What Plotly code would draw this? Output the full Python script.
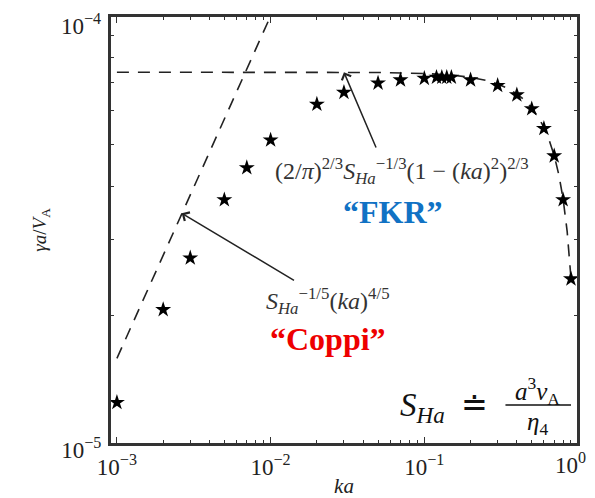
import numpy as np
import plotly.graph_objects as go

# ---- data ----
ka_sim = [0.001, 0.002, 0.003, 0.005, 0.007, 0.01, 0.02, 0.03, 0.05, 0.07,
          0.1, 0.12, 0.13, 0.14, 0.15, 0.2, 0.3, 0.4, 0.5, 0.6, 0.7, 0.8, 0.9]
gamma_sim = [1.25e-5, 2.06e-5, 2.72e-5, 3.72e-5, 4.42e-5, 5.13e-5, 6.22e-5, 6.63e-5,
             6.97e-5, 7.09e-5, 7.15e-5, 7.19e-5, 7.19e-5, 7.19e-5, 7.19e-5, 7.09e-5,
             6.88e-5, 6.54e-5, 6.07e-5, 5.46e-5, 4.71e-5, 3.72e-5, 2.43e-5]

ka_fkr = [0.001, 0.01, 0.05, 0.1, 0.15, 0.2, 0.25, 0.3, 0.35, 0.4, 0.45, 0.5,
          0.55, 0.6, 0.65, 0.7, 0.75, 0.8, 0.85, 0.9]
gamma_fkr = [7.39e-5, 7.39e-5, 7.38e-5, 7.34e-5, 7.28e-5, 7.19e-5, 7.08e-5, 6.94e-5,
             6.77e-5, 6.58e-5, 6.36e-5, 6.10e-5, 5.81e-5, 5.49e-5, 5.12e-5, 4.72e-5,
             4.26e-5, 3.74e-5, 3.14e-5, 2.44e-5]

ka_coppi = [0.001, 0.01]
gamma_coppi = [1.585e-5, 1.0e-4]

x_ticks = [1e-3, 1e-2, 1e-1, 1]
x_ticktext = ["10<sup>−3</sup>", "10<sup>−2</sup>", "10<sup>−1</sup>", ""]
x_last_label = "10<sup>0</sup>"   # drawn separately so it is not cut by the page edge
y_ticks = [1e-5, 1e-4]
y_ticktext = ["10<sup>−5</sup>", ""]
y_top_label = "10<sup>−4</sup>"   # drawn separately so it is not cut by the page edge
x_minor = [m * 10.0 ** e for e in (-3, -2, -1) for m in range(2, 10)]
y_minor = [m * 1e-5 for m in range(2, 10)]

# arrow anchor points (data coords)
fkr_head = (0.03, 7.39e-5)
fkr_tail = (0.049, 4.89e-5)
coppi_head = (0.00264, 3.46e-5)
coppi_tail = (0.01452, 2.40e-5)

SERIF = "Liberation Serif"
AX = "#333333"

fig = go.Figure()
fig.add_trace(go.Scatter(x=ka_coppi, y=gamma_coppi, mode="lines",
                         line=dict(color="#222222", width=1.6, dash="12px,9px"),
                         showlegend=False, hoverinfo="skip"))
fig.add_trace(go.Scatter(x=ka_fkr, y=gamma_fkr, mode="lines",
                         line=dict(color="#222222", width=1.6, dash="12px,9px"),
                         showlegend=False, hoverinfo="skip"))
fig.add_trace(go.Scatter(x=ka_sim, y=gamma_sim, mode="markers",
                         marker=dict(symbol="star", size=12, color="black",
                                     line=dict(width=0)),
                         showlegend=False, cliponaxis=False))

fig.update_xaxes(type="log", range=[-3.045, 0], tickvals=x_ticks, ticktext=x_ticktext,
                 ticks="inside", ticklen=7, tickwidth=1.2, tickcolor=AX,
                 mirror="allticks", showline=True, linewidth=2, linecolor=AX,
                 showgrid=False, zeroline=False, automargin=False,
                 ticklabelstandoff=1, ticklabeloverflow="allow",
                 tickfont=dict(family=SERIF, size=23, color="#222"),
                 minor=dict(tickvals=x_minor, ticks="inside", ticklen=4,
                            tickwidth=1, tickcolor=AX, showgrid=False),
                 title=dict(text="<i>ka</i>", font=dict(family=SERIF, size=21, color="#222"),
                            standoff=0))
fig.update_yaxes(type="log", range=[-5, -4], tickvals=y_ticks, ticktext=y_ticktext,
                 ticks="inside", ticklen=7, tickwidth=1.2, tickcolor=AX,
                 mirror="allticks", showline=True, linewidth=2, linecolor=AX,
                 showgrid=False, zeroline=False, automargin=False,
                 ticklabelstandoff=2, ticklabelshift=6, ticklabeloverflow="allow",
                 tickfont=dict(family=SERIF, size=23, color="#222"),
                 minor=dict(tickvals=y_minor, ticks="inside", ticklen=4,
                            tickwidth=1, tickcolor=AX, showgrid=False),
                 title=dict(text="<i>γa</i>/<i>V</i><sub>A</sub>",
                            font=dict(family=SERIF, size=19, color="#222"), standoff=10))

L = np.log10
for head, tail in ((fkr_head, fkr_tail), (coppi_head, coppi_tail)):
    fig.add_annotation(x=L(head[0]), y=L(head[1]), ax=L(tail[0]), ay=L(tail[1]),
                       xref="x", yref="y", axref="x", ayref="y", text="",
                       showarrow=True, arrowhead=4, arrowsize=1.3, arrowwidth=1.5,
                       arrowcolor="#222222")

def txt(x, y, text, size, color="#333333", xanchor="center", yanchor="middle", family=SERIF):
    fig.add_annotation(x=x, y=y, xref="paper", yref="paper", text=text, showarrow=False,
                       xanchor=xanchor, yanchor=yanchor,
                       font=dict(family=family, size=size, color=color))

# end tick labels kept inside the page
txt(1.021, -0.046, x_last_label, 23, color="#222", xanchor="right")
txt(-0.015, 1.018, y_top_label, 23, color="#222", xanchor="right", yanchor="top")

txt(0.624, 0.637, "(2/<i>π</i>)<sup>2/3</sup><i>S</i><sub><i>Ha</i></sub><sup>−1/3</sup>(1 − (<i>ka</i>)<sup>2</sup>)<sup>2/3</sup>", 24)
txt(0.605, 0.542, "<b>“FKR”</b>", 32, color="#1172C4")
txt(0.465, 0.335, "<i>S</i><sub><i>Ha</i></sub><sup>−1/5</sup>(<i>ka</i>)<sup>4/5</sup>", 24)
txt(0.466, 0.245, "<b>“Coppi”</b>", 32, color="#EE0000")

# S_Ha definition
txt(0.668, 0.085, "<i>S</i><sub><i>Ha</i></sub>", 33, color="#111111")
txt(0.778, 0.093, "≐", 32, color="#111111")
txt(0.913, 0.125, "<i>a</i><sup>3</sup><i>v</i><sub>A</sub>", 25, color="#111111")
txt(0.913, 0.048, "<i>η</i><sub>4</sub>", 25, color="#111111")
fig.add_shape(type="line", xref="paper", yref="paper", x0=0.845, x1=0.985, y0=0.091, y1=0.091,
              line=dict(color="#111111", width=1.5))

# plot frame
fig.add_shape(type="rect", xref="paper", yref="paper", x0=0, x1=1, y0=0, y1=1,
              line=dict(color=AX, width=2), layer="above")

# page body has an 8px margin: size the figure so the plot lands where the reference has it
fig.update_layout(width=587, height=490, margin=dict(l=102, r=17, t=8, b=54),
                  paper_bgcolor="white", plot_bgcolor="white")
fig.write_html("out.html")
